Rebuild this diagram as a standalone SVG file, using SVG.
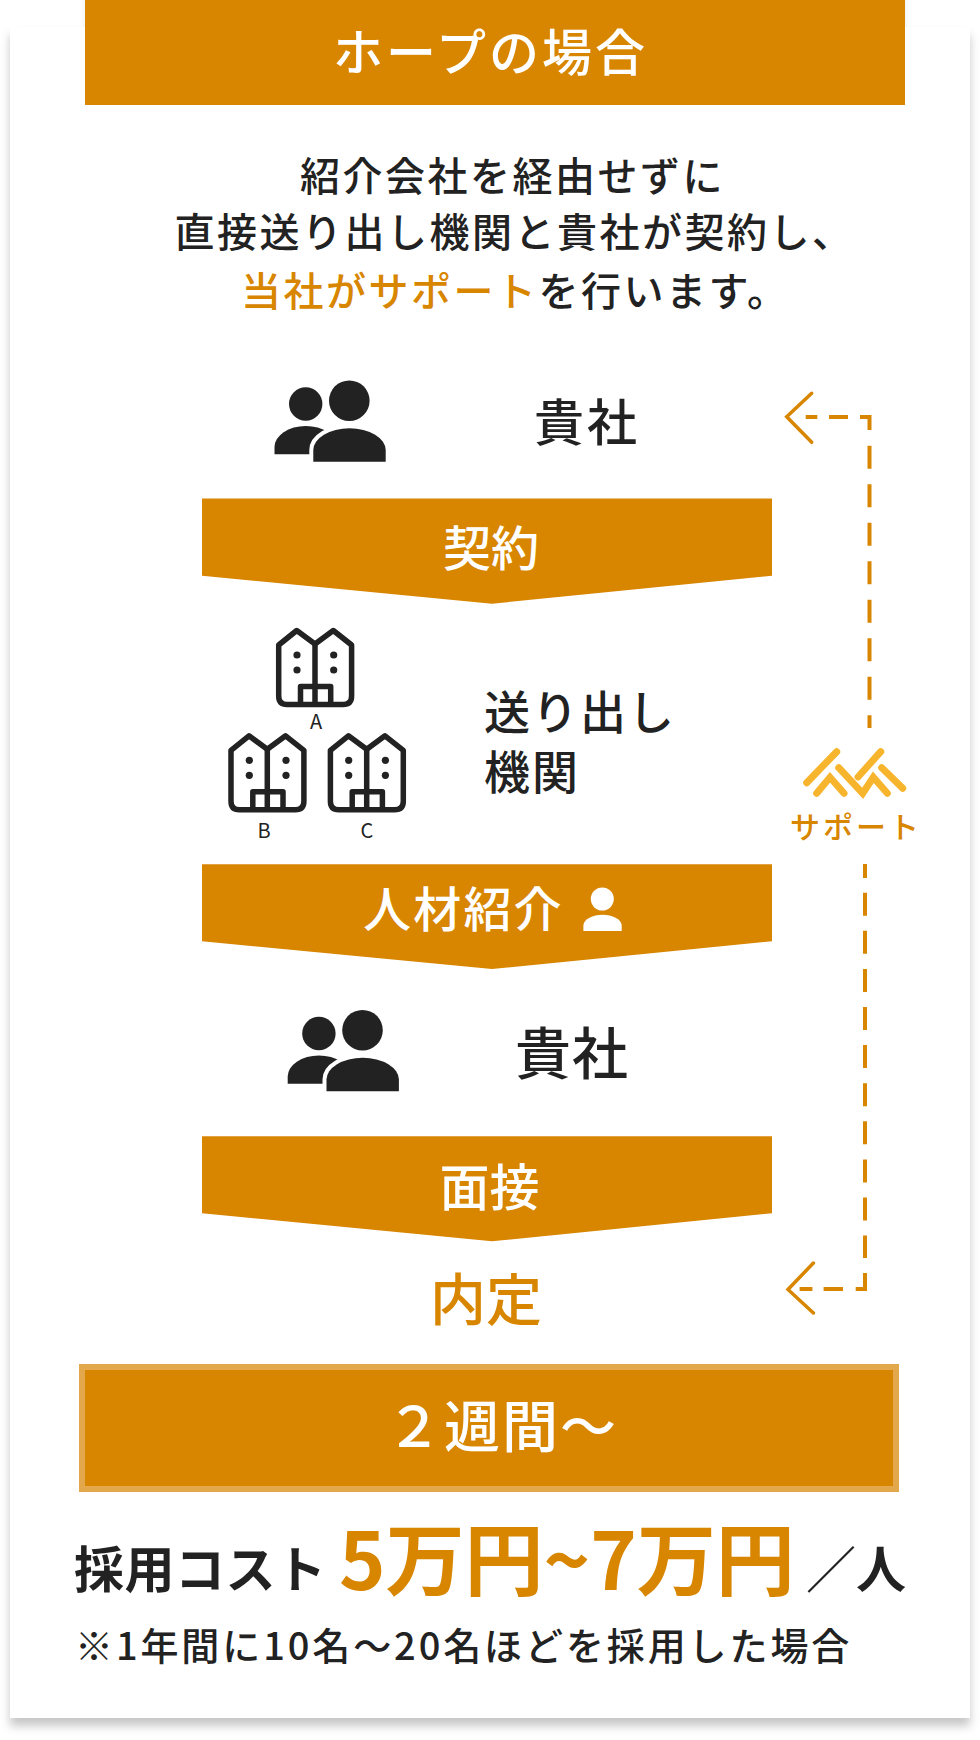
<svg xmlns="http://www.w3.org/2000/svg" width="980" height="1740" viewBox="0 0 980 1740">
<defs>
<style>
text{font-family:"Noto Sans CJK JP","Noto Sans",sans-serif;}
.d{fill:#222}.o{fill:#D88500}.w{fill:#fff}
.m{font-weight:500}.b{font-weight:700}
.ban{fill:#D88500}
.dash{fill:none;stroke:#D88500;stroke-width:4}
.arr{fill:none;stroke:#D88500;stroke-width:3.500;stroke-linecap:round;stroke-linejoin:miter}
.logo{fill:none;stroke:#F7B52E;stroke-width:7;stroke-linecap:round;stroke-linejoin:miter}
.bl{fill:none;stroke:#222;stroke-width:5.500;stroke-linejoin:round}
</style>
<filter id="sh" x="-5%" y="-5%" width="110%" height="110%"><feDropShadow dx="0" dy="8" stdDeviation="5" flood-color="#000" flood-opacity="0.22"/></filter>
<filter id="sh2" x="-5%" y="-20%" width="110%" height="140%"><feDropShadow dx="0" dy="0" stdDeviation="3" flood-color="#000" flood-opacity="0.07"/></filter>
<g id="building">
<path class="bl" d="M278.700 645 L296.700 630.500 L315 644 L333.300 630.500 L351.600 645 V696 Q351.600 704.500 343 704.500 H287 Q278.700 704.500 278.700 696 Z"/>
<path class="bl" d="M315 644 V704.500 M300.500 704.500 V686.500 H330.700 V704.500"/>
<circle cx="297" cy="655" r="3.600" fill="#222"/><circle cx="297" cy="670" r="3.600" fill="#222"/>
<circle cx="333.700" cy="655" r="3.600" fill="#222"/><circle cx="333.700" cy="670" r="3.600" fill="#222"/>
</g>
<g id="people">
<circle cx="349.300" cy="400.700" r="20.300" fill="#222"/>
<circle cx="305.700" cy="404" r="16.700" fill="#222"/>
<path d="M274.500 454.300 V447 A31.200 21 0 0 1 337 447 V454.300 Z" fill="#222"/>
<path d="M313.300 461.700 V450 A36.200 21.700 0 0 1 385.700 450 V461.700 Z" fill="#222" stroke="#fff" stroke-width="8" paint-order="stroke"/>
</g>
</defs>
<rect width="980" height="1740" fill="#fff"/>
<rect x="85" y="-20" width="820" height="80" fill="#fff" filter="url(#sh2)"/>
<rect id="card" x="10" y="27" width="960" height="1691" fill="#fff" filter="url(#sh)"/>
<g id="header"><rect x="85" y="0" width="820" height="105" fill="#D88500"/>
<text x="333" y="71" class="w m" font-size="50" letter-spacing="3">ホープの場合</text></g>
<g id="intro" font-size="40" letter-spacing="2.500">
<text x="300" y="191" class="d m">紹介会社を経由せずに</text>
<text x="174.500" y="247" class="d m">直接送り出し機関と貴社が契約し、</text>
<text x="241" y="306" class="o m">当社がサポート<tspan class="d">を行います。</tspan></text>
</g>
<g id="connectors">
<path class="dash" d="M869.500 445.700 V728" stroke-dasharray="23 15.500"/>
<path class="dash" d="M860 417 H869.500 V430"/>
<path class="dash" d="M805.700 417 H817.300 M829 417 H848"/>
<path class="arr" d="M811.700 393.300 L786.700 416.700 L811.700 442.300"/>
<path class="dash" d="M865 864 V878"/>
<path class="dash" d="M865 892.700 V1258" stroke-dasharray="23 15.100"/>
<path class="dash" d="M865 1273 V1289 H855.700"/>
<path class="dash" d="M799.600 1289 H812.400 M823.600 1289 H843"/>
<path class="arr" d="M813.400 1263 L788 1289.500 L813.400 1313"/>
</g>
<g id="kisha1"><use href="#people"/><text x="534" y="441" class="d m" font-size="50" letter-spacing="3">貴社</text></g>
<g id="keiyaku"><path class="ban" d="M202 498.500 H772 V575.700 L492 603.700 L202 575.700 Z"/><text x="443" y="566" class="w m" font-size="48">契約</text></g>
<g id="okuridashi">
<use href="#building"/><use href="#building" x="-47.700" y="105.300"/><use href="#building" x="51.700" y="105.300"/>
<g class="d" font-size="20" text-anchor="middle"><text x="316" y="729">A</text><text x="264" y="838">B</text><text x="367" y="838">C</text></g>
<text x="484" y="729" class="d m" font-size="46" letter-spacing="2">送り出し</text>
<text x="484" y="788.500" class="d m" font-size="46" letter-spacing="2">機関</text>
</g>
<g id="support">
<path class="logo" d="M806.700 782.700 L836.700 751.700"/>
<path class="logo" d="M816.700 793.300 L830 777.300 L844 793.300"/>
<path class="logo" d="M838.700 767.700 L862.700 793.300 L873.300 777.300 L887.300 793.300"/>
<path class="logo" d="M880.700 751.700 L858 777"/>
<path class="logo" d="M881.700 767.700 L902.700 788.300"/>
<text x="790" y="838" class="o m" font-size="30" letter-spacing="3">サポート</text>
</g>
<g id="shokai"><path class="ban" d="M202 864.300 H772 V941.300 L492 969 L202 941.300 Z"/><text x="363" y="927" class="w m" font-size="48" letter-spacing="2.200">人材紹介</text>
<circle cx="602.300" cy="899" r="11.500" fill="#fff"/><path d="M583.400 931 V925 A19.200 11 0 0 1 621.700 925 V931 Z" fill="#fff"/></g>
<g id="kisha2"><use href="#people" x="13.200" y="629.500"/><text x="515" y="1074" class="d m" font-size="56" letter-spacing="1">貴社</text></g>
<g id="mensetsu"><path class="ban" d="M202 1136.300 H772 V1213.300 L492 1241.300 L202 1213.300 Z"/><text x="439.500" y="1206" class="w m" font-size="50">面接</text></g>
<g id="naitei"><text x="430" y="1320" class="o m" font-size="56">内定</text></g>
<g id="period"><rect x="82" y="1367" width="814" height="122" fill="#D88500" stroke="#E3A74C" stroke-width="6"/>
<text x="386" y="1447" class="w m" font-size="56" letter-spacing="2">２週間〜</text></g>
<g id="cost">
<text x="74" y="1588" class="d b" font-size="50" letter-spacing=".5">採用コスト</text>
<text x="339" y="1590" class="o b" font-size="79">5万円~7万円</text>
<text x="806" y="1588" class="d m" font-size="50">／<tspan class="b">人</tspan></text>
<text x="75" y="1660" class="d m" font-size="38" letter-spacing="2.900">※1年間に10名〜20名ほどを採用した場合</text>
</g>
</svg>
